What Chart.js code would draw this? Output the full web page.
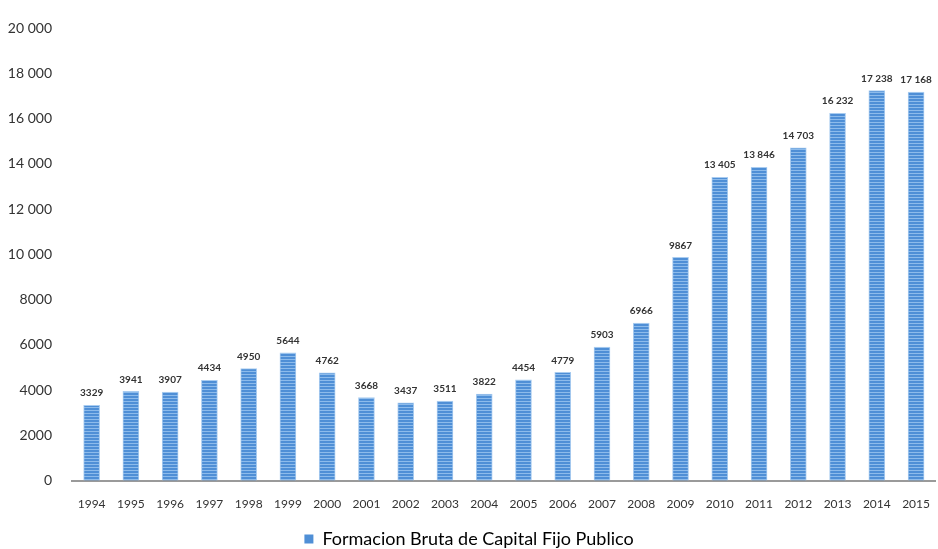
<!DOCTYPE html>
<html>
<head>
<meta charset="utf-8">
<script src="https://cdn.jsdelivr.net/npm/chart.js@4/dist/chart.umd.min.js"></script>
<style>
  html, body { margin: 0; padding: 0; background: #fff; }
  #wrap { width: 938px; height: 549px; }
</style>
</head>
<body>
<div id="wrap"><canvas id="myChart"></canvas></div>
<script>
const years = ['1994','1995','1996','1997','1998','1999','2000','2001','2002','2003','2004',
  '2005','2006','2007','2008','2009','2010','2011','2012','2013','2014','2015'];
const fbkf = [3329, 3941, 3907, 4434, 4950, 5644, 4762, 3668, 3437, 3511, 3822,
  4454, 4779, 5903, 6966, 9867, 13405, 13846, 14703, 16232, 17238, 17168];
const seriesName = 'Formacion Bruta de Capital Fijo Publico';

// thousands with a space only from 10 000 up, like the original
function fmt(v) {
  if (v >= 10000) return String(v).replace(/\B(?=(\d{3})+(?!\d))/g, ' ');
  return String(v);
}

// striped fill for the bars
const pc = document.createElement('canvas');
pc.width = 4; pc.height = 3;
const px = pc.getContext('2d');
px.fillStyle = '#4f8fd6';
px.fillRect(0, 0, 4, 2);
px.fillStyle = '#8dbbeb';
px.fillRect(0, 2, 4, 1);
const stripes = px.createPattern(pc, 'repeat');

const valueLabels = {
  id: 'valueLabels',
  afterDatasetsDraw(chart) {
    const c = chart.ctx;
    const meta = chart.getDatasetMeta(0);
    c.save();
    c.font = 'bold 10px Lato';
    c.fillStyle = '#333';
    c.textAlign = 'center';
    c.textBaseline = 'bottom';
    meta.data.forEach((bar, i) => {
      c.fillText(fmt(fbkf[i]), bar.x, bar.y - 7);
    });
    c.restore();
  }
};

const ctx = document.getElementById('myChart');
new Chart(ctx, {
  type: 'bar',
  data: {
    labels: years,
    datasets: [{
      label: seriesName,
      data: fbkf,
      backgroundColor: stripes,
      borderColor: '#a9ccf0',
      borderWidth: 1,
      barThickness: 16
    }]
  },
  options: {
    responsive: true,
    maintainAspectRatio: false,
    animation: false,
    layout: { padding: { top: 28, right: 0, left: 0, bottom: -9 } },
    plugins: {
      tooltip: { enabled: false },
      legend: {
        position: 'bottom',
        labels: {
          boxWidth: 9,
          boxHeight: 9,
          color: '#404040',
          font: { family: 'Lato', size: 18 },
          padding: 0,
          generateLabels: () => [{ text: seriesName, fillStyle: '#4f8fd6', strokeStyle: '#4f8fd6', lineWidth: 0 }]
        }
      }
    },
    scales: {
      x: {
        grid: { display: false },
        border: { color: '#9a9a9a', width: 2 },
        afterFit: s => { s.height += 11; },
        ticks: { color: '#333', font: { family: 'Lato', size: 12 }, autoSkip: false, maxRotation: 0, padding: 8 }
      },
      y: {
        min: 0,
        max: 20000,
        afterFit: s => { s.width = 72; },
        grid: { display: false },
        border: { display: false },
        ticks: {
          stepSize: 2000,
          color: '#333',
          font: { family: 'Lato', size: 14 },
          padding: 12,
          callback: v => fmt(v)
        }
      }
    }
  },
  plugins: [valueLabels]
});
</script>
</body>
</html>
